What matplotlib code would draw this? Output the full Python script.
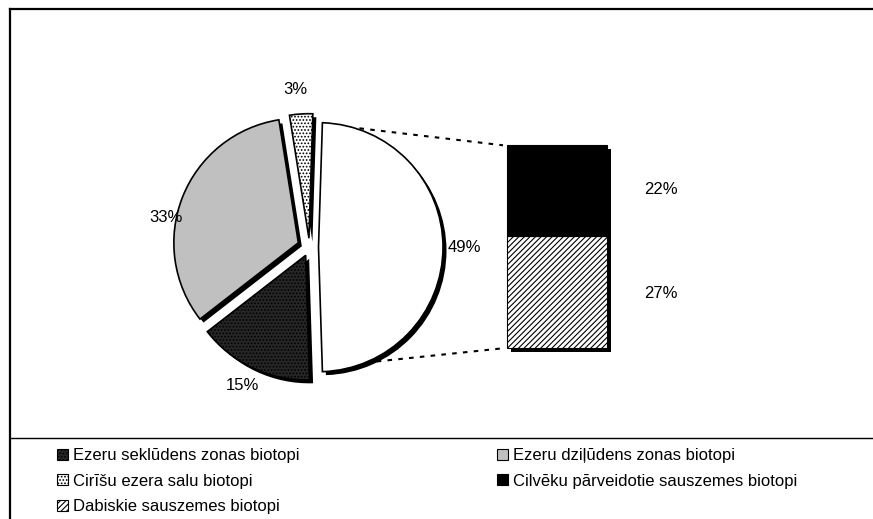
import matplotlib
matplotlib.use('Agg')
import matplotlib.pyplot as plt
from matplotlib.patches import Patch
import numpy as np

plt.rcParams['font.family'] = ['Liberation Sans', 'DejaVu Sans']
plt.rcParams['hatch.linewidth'] = 0.8

# ---- data ----
pie_labels = ['Citi', 'Ezeru seklūdens zonas biotopi', 'Ezeru dziļūdens zonas biotopi',
              'Cirīšu ezera salu biotopi']
pie_values = [49, 15, 33, 3]
bar_labels = ['Dabiskie sauszemes biotopi', 'Cilvēku pārveidotie sauszemes biotopi']
bar_values = [27, 22]  # bottom to top

W, H = 873, 519
fig = plt.figure(figsize=(8.73, 5.19), dpi=100)
ax = fig.add_axes([0, 0, 1, 1])

# ---- styles ----
pie_faces = ['white', '#262626', '#c0c0c0', 'white']
pie_hatch = [None, '.....', None, '.....']
bar_faces = ['white', 'black']
bar_hatch = ['//////', None]

cx, cy = 309.5, H - 247.2
R = 124.5
explode = [9, 9, 12, 9]   # offsets in pixels
start = pie_values[0] / 100 * 180
sh = 3.5

# shadow
ax.pie(pie_values, colors=['black'] * 4, center=(cx + sh, cy - sh), radius=R,
       explode=explode, startangle=start, counterclock=False,
       wedgeprops=dict(linewidth=0))
wedges, _ = ax.pie(pie_values, colors=pie_faces, center=(cx, cy), radius=R,
                   explode=explode, startangle=start, counterclock=False,
                   wedgeprops=dict(linewidth=1.2, edgecolor='black'))
for w, h in zip(wedges, pie_hatch):
    if h:
        w.set_hatch(h)

# bar of pie
bx, bw = 557, 100
b0 = H - 348.3
scale = 203 / sum(bar_values)
bottoms = np.concatenate([[0], np.cumsum(bar_values)[:-1]])
ax.bar([bx + sh] * 2, [v * scale for v in bar_values], width=bw,
       bottom=[b0 - sh + b * scale for b in bottoms], color='black', linewidth=0)
bars = ax.bar([bx] * 2, [v * scale for v in bar_values], width=bw,
              bottom=[b0 + b * scale for b in bottoms], color=bar_faces,
              edgecolor='black', linewidth=0.8)
for b, h in zip(bars, bar_hatch):
    if h:
        b.set_hatch(h)

# connector lines
wx = cx + explode[0]
top_pt = (wx + R * 1.01 * np.cos(np.radians(71)), cy + R * 1.01 * np.sin(np.radians(71)))
bot_pt = (wx + R * 1.03 * np.cos(np.radians(-63)), cy + R * 1.03 * np.sin(np.radians(-63)))
bar_top = b0 + sum(bar_values) * scale
ax.plot([top_pt[0], bx - bw / 2 - 4], [top_pt[1], bar_top], color='black',
        lw=1.5, linestyle=(0, (2.2, 3)))
ax.plot([bot_pt[0], bx - bw / 2 - 4], [bot_pt[1], b0], color='black',
        lw=1.5, linestyle=(0, (2.2, 3)))

# labels
fs = 12
pie_label_pos = [(464, 247), (242, 385), (166, 218), (295, 89)]
for v, (x, y) in zip(pie_values, pie_label_pos):
    ax.text(x, H - y, f'{v}%', ha='center', va='center', fontsize=fs)
bar_label_pos = [(661, 294), (661, 190)]
for v, (x, y) in zip(bar_values, bar_label_pos):
    ax.text(x, H - y, f'{v}%', ha='center', va='center', fontsize=fs)

# frame
ax.plot([9.5, W], [H - 8.5, H - 8.5], color='black', lw=1.6)
ax.plot([9.5, 9.5], [H - 8.5, 0], color='black', lw=1.6)
ax.plot([9.5, W], [H - 438, H - 438], color='black', lw=1.0)

# legend
def patch(face, hatch):
    return Patch(facecolor=face, edgecolor='black', hatch=hatch, linewidth=0.8)

handles = [patch(pie_faces[1], pie_hatch[1]), patch(pie_faces[3], pie_hatch[3]),
           patch(bar_faces[0], bar_hatch[0]), patch(pie_faces[2], pie_hatch[2]),
           patch(bar_faces[1], bar_hatch[1])]
labels = [pie_labels[1], pie_labels[3], bar_labels[0], pie_labels[2], bar_labels[1]]
ax.legend(handles, labels, ncol=2, loc='upper left', bbox_to_anchor=(57, H - 448),
          bbox_transform=ax.transData, frameon=False, fontsize=fs, borderpad=0,
          handlelength=0.65, handleheight=0.65, handletextpad=0.3, labelspacing=0.64,
          columnspacing=11.88, borderaxespad=0)

ax.set_xlim(0, W)
ax.set_ylim(0, H)
ax.set_aspect('auto')
ax.axis('off')

fig.savefig('out.png', dpi=100)
